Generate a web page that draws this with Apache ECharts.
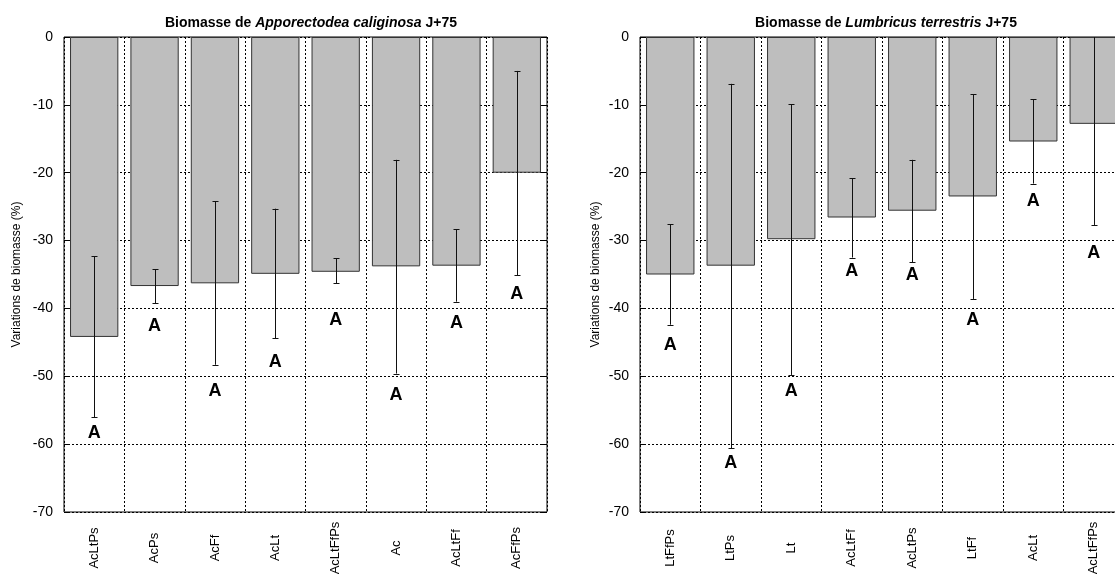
<!DOCTYPE html>
<html><head><meta charset="utf-8">
<script src="https://cdn.jsdelivr.net/npm/echarts@6/dist/echarts.min.js"></script>
<style>html,body{margin:0;padding:0;background:#fff}#c{width:1115px;height:574px}</style>
</head><body><div id="c"></div>
<script>
// ---- Data: Apporectodea caliginosa (left) ----
const catsAc = ['AcLtPs','AcPs','AcFf','AcLt','AcLtFfPs','Ac','AcLtFf','AcFfPs'];
const meanAc = [-44.2,-36.7,-36.3,-34.9,-34.6,-33.8,-33.7,-20.0];
const lowAc = [-56.0,-39.2,-48.3,-44.4,-36.3,-49.6,-39.0,-35.1];
const highAc = [-32.3,-34.2,-24.2,-25.3,-32.6,-18.1,-28.3,-5.0];
const letterAc = ['A','A','A','A','A','A','A','A'];
const letterPosAc = [-58.4,-42.6,-52.1,-47.9,-41.7,-52.7,-42.2,-37.9];

// ---- Data: Lumbricus terrestris (right) ----
const catsLt = ['LtFfPs','LtPs','Lt','AcLtFf','AcLtPs','LtFf','AcLt','AcLtFfPs'];
const meanLt = [-35.0,-33.7,-29.8,-26.6,-25.6,-23.5,-15.4,-12.8];
const lowLt = [-42.4,-60.6,-49.8,-32.5,-33.2,-38.6,-21.6,-27.7];
const highLt = [-27.6,-6.9,-9.9,-20.8,-18.1,-8.4,-9.2,2.1];
const letterLt = ['A','A','A','A','A','A','A','A'];
const letterPosLt = [-45.4,-62.8,-52.2,-34.5,-35.1,-41.7,-24.1,-31.9];

const yMin = -70, yMax = 0, yStep = 10;
const yName = 'Variations de biomasse (%)';
const FONT = 'Liberation Sans, Arial, Helvetica, sans-serif';

const chart = echarts.init(document.getElementById('c'), null, {renderer:'canvas'});

function errData(low, high){ return low.map((l,i)=>[i,l,high[i]]); }
function letterData(pos){ return pos.map((p,i)=>[i,p]); }

function renderErr(params, api){
  const i = api.value(0);
  const lo = api.value(1);
  const hiRaw = api.value(2);
  const hi = Math.min(hiRaw, yMax);
  const pLo = api.coord([i, lo]);
  const pHi = api.coord([i, hi]);
  const x = Math.round(pLo[0]) + 0.5;
  const cw = 3;
  const st = {stroke:'#111', lineWidth:1};
  const children = [
    {type:'line', shape:{x1:x, y1:pHi[1], x2:x, y2:pLo[1]}, style:st},
    {type:'line', shape:{x1:x-cw, y1:Math.round(pLo[1])+0.5, x2:x+cw, y2:Math.round(pLo[1])+0.5}, style:st}
  ];
  if (hiRaw <= yMax) children.push({type:'line', shape:{x1:x-cw, y1:Math.round(pHi[1])+0.5, x2:x+cw, y2:Math.round(pHi[1])+0.5}, style:st});
  return {type:'group', children};
}
function renderLetter(params, api){
  const p = api.coord([api.value(0), api.value(1)]);
  const txt = params.seriesName === 'lettersAc' ? letterAc[params.dataIndex] : letterLt[params.dataIndex];
  return {type:'text', x:p[0], y:p[1], style:{text: txt, align:'center', verticalAlign:'middle', fill:'#000', font:'bold 18px ' + FONT}};
}

function xAxisCfg(gi, cats){
  return {type:'category', gridIndex:gi, data:cats,
    axisLine:{show:false}, axisTick:{show:false},
    splitLine:{show:true, interval:0, lineStyle:{color:'#000', width:1, type:[2,2]}},
    axisLabel:{interval:0, rotate:90, align:'center', verticalAlign:'middle', margin:36, fontSize:13, color:'#000', fontFamily:FONT}};
}
function yAxisCfg(gi, nameGap){
  return {type:'value', gridIndex:gi, min:yMin, max:yMax, interval:yStep,
    name:yName, nameLocation:'middle', nameGap:nameGap, nameTextStyle:{fontSize:12, color:'#000', fontFamily:FONT},
    axisLine:{show:false}, axisTick:{show:true, inside:true, length:5, lineStyle:{color:'#000'}},
    axisLabel:{margin:11, fontSize:14, color:'#000', fontFamily:FONT},
    splitLine:{show:true, lineStyle:{color:'#000', width:1, type:[2,2]}}};
}
function yAxisRight(gi){
  return {type:'value', gridIndex:gi, position:'right', min:yMin, max:yMax, interval:yStep,
    axisLine:{show:false}, axisTick:{show:true, inside:true, length:5, lineStyle:{color:'#000'}},
    axisLabel:{show:false}, splitLine:{show:false}};
}
function titleCfg(x, sp){
  return {text:'Biomasse de {i|' + sp + '} J+75', left:x, top:11, textAlign:'center',
    textStyle:{fontSize:14, fontWeight:'bold', color:'#000', fontFamily:FONT,
      rich:{i:{fontSize:14, fontWeight:'bold', fontStyle:'italic', color:'#000', fontFamily:FONT}}}};
}
const barStyle = {color:'#bebebe', borderColor:'#333', borderWidth:1};

chart.setOption({
  animation:false,
  backgroundColor:'#fff',
  title:[titleCfg(306,'Apporectodea caliginosa'), titleCfg(881,'Lumbricus terrestris')],
  grid:[
    {left:64, right:568, top:37, bottom:62, show:true, borderColor:'#000', borderWidth:1, backgroundColor:'transparent', outerBoundsMode:'none', containLabel:false},
    {left:640, right:-9, top:37, bottom:62, show:true, borderColor:'#000', borderWidth:1, backgroundColor:'transparent', outerBoundsMode:'none', containLabel:false}
  ],
  xAxis:[xAxisCfg(0, catsAc), xAxisCfg(1, catsLt)],
  yAxis:[yAxisCfg(0,41), yAxisCfg(1,38), yAxisRight(0), yAxisRight(1)],
  series:[
    {type:'bar', name:'barsAc', xAxisIndex:0, yAxisIndex:0, data:meanAc, barWidth:'80%', itemStyle:barStyle},
    {type:'bar', name:'barsLt', xAxisIndex:1, yAxisIndex:1, data:meanLt, barWidth:'80%', itemStyle:barStyle},
    {type:'custom', name:'errAc', xAxisIndex:0, yAxisIndex:0, data:errData(lowAc, highAc), renderItem:renderErr, z:5},
    {type:'custom', name:'errLt', xAxisIndex:1, yAxisIndex:1, data:errData(lowLt, highLt), renderItem:renderErr, z:5},
    {type:'custom', name:'lettersAc', xAxisIndex:0, yAxisIndex:0, data:letterData(letterPosAc), renderItem:renderLetter, z:6},
    {type:'custom', name:'lettersLt', xAxisIndex:1, yAxisIndex:1, data:letterData(letterPosLt), renderItem:renderLetter, z:6}
  ]
});
</script></body></html>
